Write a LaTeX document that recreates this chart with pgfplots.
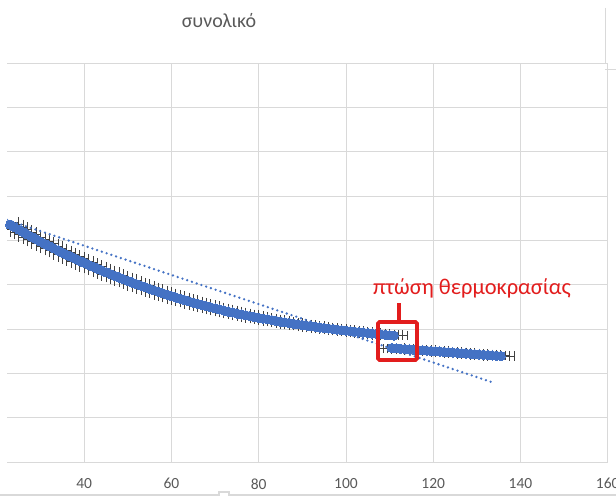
\documentclass[border=0pt]{standalone}
\usepackage{pgfplots}
\pgfplotsset{compat=1.18}
\usepackage{fontspec}
\setmainfont{Carlito}
\definecolor{gridc}{HTML}{D9D9D9}
\definecolor{txtc}{HTML}{595959}
\definecolor{ser}{HTML}{4472C4}
\definecolor{errc}{HTML}{404040}
\definecolor{annc}{HTML}{E21D1D}
\begin{document}
\begin{tikzpicture}
\path[use as bounding box] (0,0) rectangle (616bp,499bp);
\begin{axis}[
  at={(7bp,37bp)}, anchor=south west,
  scale only axis, width=600.7bp, height=399bp,
  xmin=22.3, xmax=160, ymin=0, ymax=9,
  xtick={40,60,...,160}, ytick={0,1,...,9},
  yticklabels={},
  grid=major, major grid style={gridc, line width=0.9bp},
  axis line style={draw=none},
  major tick length=0pt,
  /pgf/number format/assume math mode=true,
  xticklabel style={font=\fontsize{15.5bp}{18bp}\selectfont, text=txtc, yshift=-13bp},
  clip=true,
]
% error bars (drawn beneath markers)
\addplot[draw=none, mark=none, forget plot,
  error bars/.cd, x dir=both, x fixed=3,
  error bar style={errc, line width=0.8bp},
  error mark=-,
  error mark options={rotate=90, errc, line width=0.8bp, mark size=4.8bp}]
  table[row sep=\\] {
x y\\
22 5.410\\ 23 5.352\\ 24 5.296\\ 25 5.240\\ 26 5.184\\ 27 5.130\\ 28 5.076\\ 29 5.023\\ 30 4.971\\ 31 4.920\\
32 4.869\\ 33 4.819\\ 34 4.770\\ 35 4.722\\ 36 4.674\\ 37 4.628\\ 38 4.582\\ 39 4.536\\ 40 4.492\\
41 4.448\\ 42 4.405\\ 43 4.363\\ 44 4.321\\ 45 4.280\\ 46 4.240\\ 47 4.200\\ 48 4.161\\ 49 4.122\\ 50 4.085\\
51 4.047\\ 52 4.011\\ 53 3.975\\ 54 3.940\\ 55 3.905\\ 56 3.871\\ 57 3.838\\ 58 3.805\\ 59 3.773\\ 60 3.742\\
61 3.711\\ 62 3.681\\ 63 3.652\\ 64 3.623\\ 65 3.595\\ 66 3.568\\ 67 3.541\\ 68 3.515\\ 69 3.489\\ 70 3.465\\
71 3.440\\ 72 3.417\\ 73 3.394\\ 74 3.372\\ 75 3.350\\ 76 3.329\\ 77 3.309\\ 78 3.289\\ 79 3.270\\ 80 3.252\\
81 3.234\\ 82 3.217\\ 83 3.200\\ 84 3.183\\ 85 3.166\\ 86 3.150\\ 87 3.135\\ 88 3.119\\ 89 3.104\\ 90 3.090\\
91 3.075\\ 92 3.061\\ 93 3.048\\ 94 3.034\\ 95 3.021\\ 96 3.009\\ 97 2.997\\ 98 2.985\\ 99 2.973\\ 100 2.962\\
101 2.951\\ 102 2.940\\ 103 2.929\\ 104 2.919\\ 105 2.909\\ 106 2.899\\ 107 2.889\\ 108 2.879\\ 109 2.869\\ 110 2.860\\ 111 2.851\\
110.5 2.570\\ 111.5 2.563\\ 112.5 2.556\\ 113.5 2.548\\ 114.5 2.541\\ 115.5 2.534\\ 116.5 2.527\\ 117.5 2.520\\
118.5 2.512\\ 119.5 2.505\\ 120.5 2.498\\ 121.5 2.491\\ 122.5 2.484\\ 123.5 2.476\\ 124.5 2.469\\ 125.5 2.462\\
126.5 2.455\\ 127.5 2.448\\ 128.5 2.440\\ 129.5 2.433\\ 130.5 2.426\\ 131.5 2.419\\ 132.5 2.412\\ 133.5 2.404\\
134.5 2.397\\ 135.5 2.390\\
};
% markers
\addplot[only marks, mark=*, mark size=4.6bp, mark options={fill=ser, draw=ser, line width=0pt}]
  table[row sep=\\] {
x y\\
22 5.410\\ 23 5.352\\ 24 5.296\\ 25 5.240\\ 26 5.184\\ 27 5.130\\ 28 5.076\\ 29 5.023\\ 30 4.971\\ 31 4.920\\
32 4.869\\ 33 4.819\\ 34 4.770\\ 35 4.722\\ 36 4.674\\ 37 4.628\\ 38 4.582\\ 39 4.536\\ 40 4.492\\
41 4.448\\ 42 4.405\\ 43 4.363\\ 44 4.321\\ 45 4.280\\ 46 4.240\\ 47 4.200\\ 48 4.161\\ 49 4.122\\ 50 4.085\\
51 4.047\\ 52 4.011\\ 53 3.975\\ 54 3.940\\ 55 3.905\\ 56 3.871\\ 57 3.838\\ 58 3.805\\ 59 3.773\\ 60 3.742\\
61 3.711\\ 62 3.681\\ 63 3.652\\ 64 3.623\\ 65 3.595\\ 66 3.568\\ 67 3.541\\ 68 3.515\\ 69 3.489\\ 70 3.465\\
71 3.440\\ 72 3.417\\ 73 3.394\\ 74 3.372\\ 75 3.350\\ 76 3.329\\ 77 3.309\\ 78 3.289\\ 79 3.270\\ 80 3.252\\
81 3.234\\ 82 3.217\\ 83 3.200\\ 84 3.183\\ 85 3.166\\ 86 3.150\\ 87 3.135\\ 88 3.119\\ 89 3.104\\ 90 3.090\\
91 3.075\\ 92 3.061\\ 93 3.048\\ 94 3.034\\ 95 3.021\\ 96 3.009\\ 97 2.997\\ 98 2.985\\ 99 2.973\\ 100 2.962\\
101 2.951\\ 102 2.940\\ 103 2.929\\ 104 2.919\\ 105 2.909\\ 106 2.899\\ 107 2.889\\ 108 2.879\\ 109 2.869\\ 110 2.860\\ 111 2.851\\
110.5 2.570\\ 111.5 2.563\\ 112.5 2.556\\ 113.5 2.548\\ 114.5 2.541\\ 115.5 2.534\\ 116.5 2.527\\ 117.5 2.520\\
118.5 2.512\\ 119.5 2.505\\ 120.5 2.498\\ 121.5 2.491\\ 122.5 2.484\\ 123.5 2.476\\ 124.5 2.469\\ 125.5 2.462\\
126.5 2.455\\ 127.5 2.448\\ 128.5 2.440\\ 129.5 2.433\\ 130.5 2.426\\ 131.5 2.419\\ 132.5 2.412\\ 133.5 2.404\\
134.5 2.397\\ 135.5 2.390\\
};
% linear trendline
\addplot[ser, line width=2.6bp, line cap=round, dash pattern=on 0bp off 5bp]
  coordinates {(22.3,5.46) (134.1,1.78)};
\end{axis}
% title
\node[anchor=base, text=txtc, font=\fontsize{20bp}{24bp}\selectfont] at (219bp,471bp) {συνολικό};
% annotation
\node[anchor=base, text=annc, font=\fontsize{22.5bp}{26bp}\selectfont] at (472bp,204bp) {πτώση θερμοκρασίας};
\draw[annc, line width=3.8bp, rounded corners=1.5bp] (378bp,139bp) rectangle (417bp,177bp);
\draw[annc, line width=3.4bp] (399bp,177bp) -- (399bp,196bp);
% frame artefacts
\draw[gridc, line width=0.9bp] (605bp,491bp) -- (605bp,436bp);
\draw[gridc, line width=0.9bp] (605bp,430bp) -- (616bp,430bp);
\draw[gridc, line width=1.6bp] (0bp,4bp) -- (219bp,4bp) -- (219bp,7bp) -- (229bp,7bp) -- (229bp,4bp) -- (616bp,4bp);
\end{tikzpicture}
\end{document}
